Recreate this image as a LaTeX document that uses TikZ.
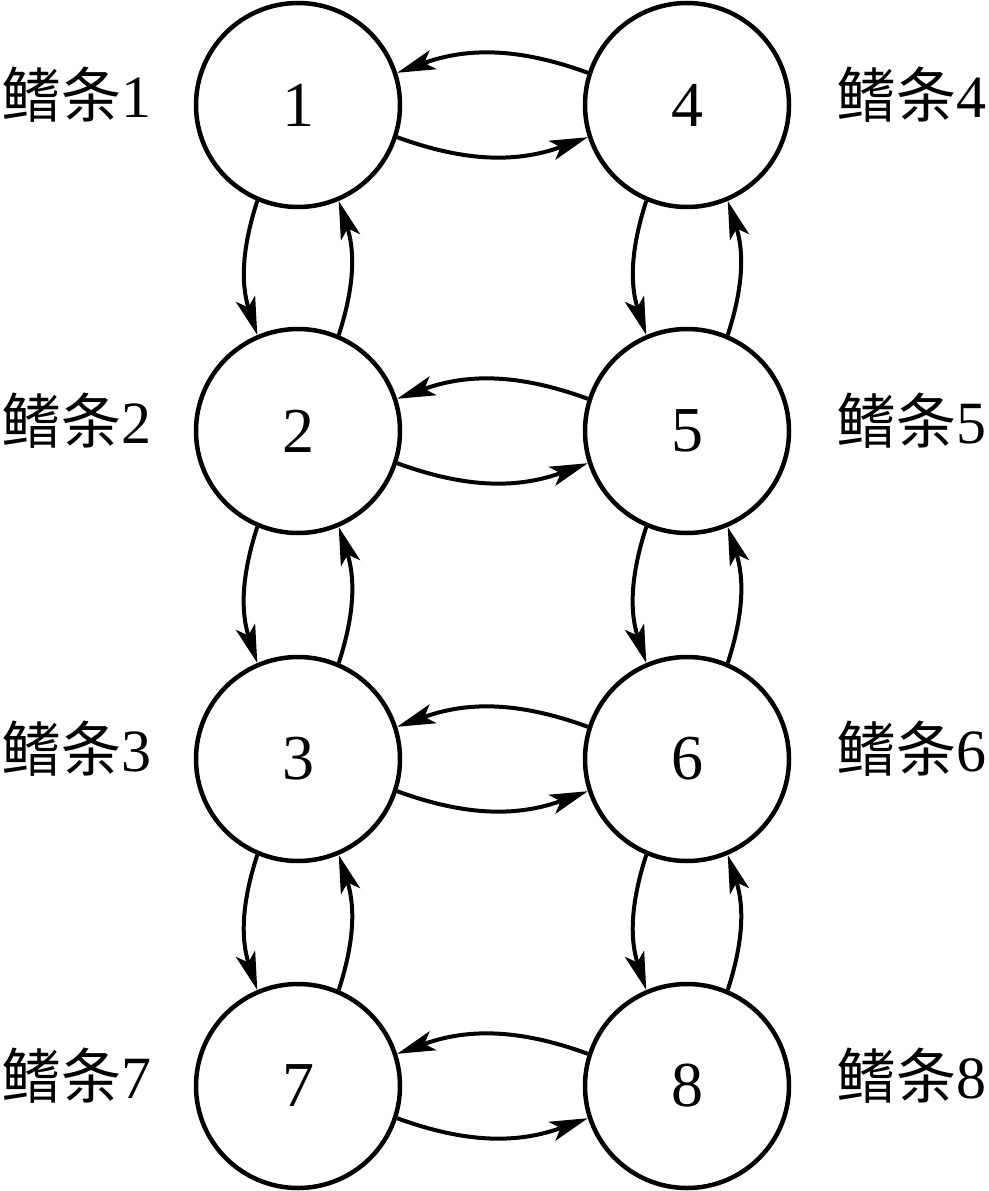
\documentclass[tikz,border=0pt]{standalone}
\usepackage{fontspec}
\setmainfont{Liberation Serif}
\newfontfamily\cjk{Noto Sans CJK SC}
\usetikzlibrary{arrows.meta}
\begin{document}
\begin{tikzpicture}[x=1pt,y=1pt,
  fin/.style={draw, circle, line width=4.5pt, minimum size=204pt, inner sep=0pt,
    font=\fontsize{64}{70}\selectfont},
  lab/.style={inner sep=0pt, font=\fontsize{60}{70}\selectfont},
  conn/.style={line width=4pt, -{Stealth[length=38pt,width=20pt,inset=9pt]}}]
\useasboundingbox (0,0) rectangle (988,-1191);
\node[fin] (n1) at (298,-105) {1};
\node[fin] (n4) at (687,-105) {4};
\node[fin] (n2) at (298,-431) {2};
\node[fin] (n5) at (687,-431) {5};
\node[fin] (n3) at (298,-759) {3};
\node[fin] (n6) at (687,-759) {6};
\node[fin] (n7) at (298,-1086) {7};
\node[fin] (n8) at (687,-1086) {8};
% labels
\node[lab, anchor=base west] (l1) at (1,-117) {{\cjk 鳍条}1};
\node[lab, anchor=base west] (l2) at (1,-443) {{\cjk 鳍条}2};
\node[lab, anchor=base west] (l3) at (1,-771) {{\cjk 鳍条}3};
\node[lab, anchor=base west] (l7) at (1,-1098) {{\cjk 鳍条}7};
\node[lab, anchor=base east] (l4) at (987,-117) {{\cjk 鳍条}4};
\node[lab, anchor=base east] (l5) at (987,-443) {{\cjk 鳍条}5};
\node[lab, anchor=base east] (l6) at (987,-771) {{\cjk 鳍条}6};
\node[lab, anchor=base east] (l8) at (987,-1098) {{\cjk 鳍条}8};
% horizontal connectors
\foreach \a/\b in {n1/n4, n2/n5, n3/n6, n7/n8}{
  \draw[conn] (\b.162) to[bend right=20] (\a.18);
  \draw[conn] (\a.-18) to[bend right=20] (\b.198);
}
% vertical connectors
\foreach \a/\b in {n1/n2, n2/n3, n3/n7, n4/n5, n5/n6, n6/n8}{
  \draw[conn] (\a.247) to[bend right=18] (\b.113);
  \draw[conn] (\b.67) to[bend right=18] (\a.293);
}
\end{tikzpicture}
\end{document}
